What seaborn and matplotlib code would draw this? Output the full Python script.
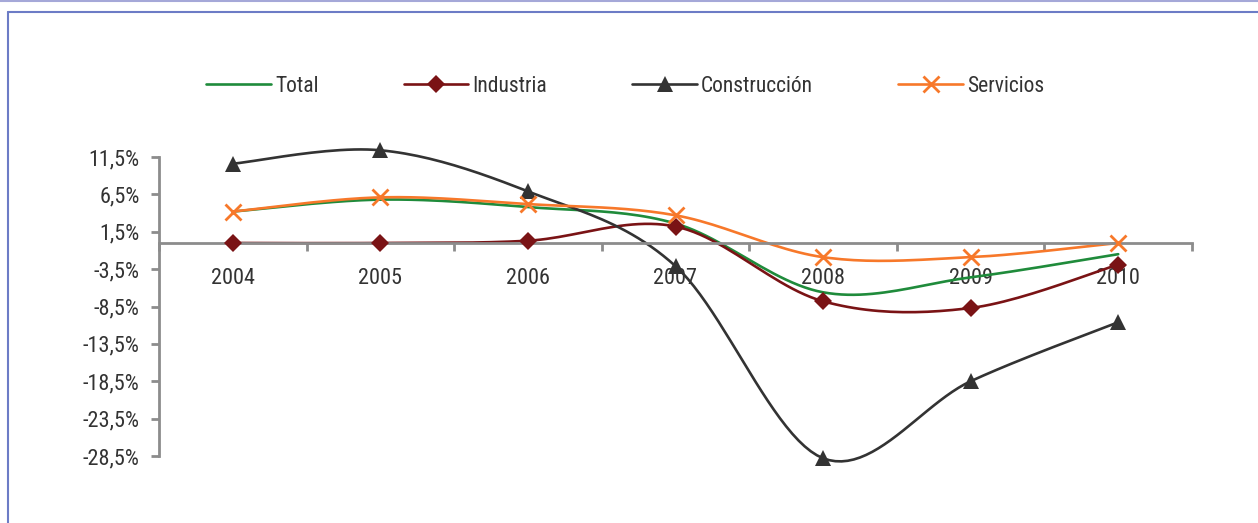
import numpy as np
import pandas as pd
import matplotlib
matplotlib.use("Agg")
import matplotlib.pyplot as plt
from matplotlib import font_manager
from matplotlib.lines import Line2D
import seaborn as sns

years = ["2004", "2005", "2006", "2007", "2008", "2009", "2010"]
total = [4.2, 5.8, 4.8, 2.6, -6.6, -4.6, -1.5]
industria = [0.0, 0.0, 0.3, 2.2, -7.8, -8.7, -2.9]
construccion = [10.6, 12.4, 6.9, -3.1, -28.8, -18.5, -10.6]
servicios = [4.2, 6.1, 5.2, 3.7, -1.9, -1.9, 0.0]

series_names = ["Total", "Industria", "Construcción", "Servicios"]
series_values = [total, industria, construccion, servicios]
colors = {"Total": "#1f8b3b", "Industria": "#7a1315",
          "Construcción": "#333333", "Servicios": "#f7782a"}
markers = {"Total": None, "Industria": "D", "Construcción": "^", "Servicios": "x"}
ytick_vals = [11.5, 6.5, 1.5, -3.5, -8.5, -13.5, -18.5, -23.5, -28.5]

sns.set_theme(style="white")
available = {f.name for f in font_manager.fontManager.ttflist}
main_font = next((f for f in ["Liberation Sans Narrow", "Roboto Condensed", "Roboto", "DejaVu Sans"]
                  if f in available), "DejaVu Sans")
plt.rcParams["font.family"] = [main_font, "DejaVu Sans"]


def smooth(xs, ys, n=24):
    """Cubic Bezier smoothing with Catmull-Rom control points."""
    pts = np.column_stack([xs, ys]).astype(float)
    ext = np.vstack([pts[0], pts, pts[-1]])
    out = []
    t = np.linspace(0, 1, n, endpoint=False)[:, None]
    for i in range(len(pts) - 1):
        p0, p1, p2, p3 = ext[i], ext[i + 1], ext[i + 2], ext[i + 3]
        c1 = p1 + (p2 - p0) / 6.0
        c2 = p2 - (p3 - p1) / 6.0
        seg = ((1 - t) ** 3) * p1 + 3 * ((1 - t) ** 2) * t * c1 + 3 * (1 - t) * t ** 2 * c2 + t ** 3 * p2
        out.append(seg)
    out.append(pts[-1][None, :])
    return np.vstack(out)


xpos = np.arange(len(years))
frames = []
for name, vals in zip(series_names, series_values):
    sm = smooth(xpos, vals)
    frames.append(pd.DataFrame({"x": sm[:, 0], "y": sm[:, 1], "serie": name}))
curves = pd.concat(frames, ignore_index=True)

fig = plt.figure(figsize=(12.58, 5.23), dpi=100)
ax = fig.add_axes([159 / 1258, 1 - 456 / 523, (1192 - 159) / 1258, (456 - 157) / 523])

sns.lineplot(data=curves, x="x", y="y", hue="serie", palette=colors, sort=False,
             estimator=None, units="serie", legend=False, linewidth=1.9, ax=ax,
             hue_order=series_names)
for line in ax.lines:
    line.set_clip_on(False)

marker_kw = {
    "Industria": dict(markersize=9, markeredgewidth=0),
    "Construcción": dict(markersize=11, markeredgewidth=0),
    "Servicios": dict(markersize=12, markeredgewidth=2.0),
}
for name, vals in zip(series_names, series_values):
    m = markers[name]
    if m is None:
        continue
    ax.plot(xpos, vals, linestyle="none", marker=m, color=colors[name],
            clip_on=False, zorder=5, **marker_kw[name])

ax.set_xlim(-0.5, len(years) - 0.5)
ax.set_ylim(-28.5, 11.5)

axis_gray = "#8c8c8c"
for side in ["top", "right"]:
    ax.spines[side].set_visible(False)
ax.spines["left"].set_color(axis_gray)
ax.spines["left"].set_linewidth(2)
ax.spines["bottom"].set_color(axis_gray)
ax.spines["bottom"].set_linewidth(2)
ax.spines["bottom"].set_position(("data", 0))

ax.set_yticks(ytick_vals)
ax.set_yticklabels([f"{v:.1f}%".replace(".", ",") for v in ytick_vals])
ax.set_xticks(xpos)
ax.set_xticklabels(years)
ax.set_xticks(np.arange(len(years) + 1) - 0.5, minor=True)

ax.tick_params(axis="y", which="major", direction="out", length=6, width=2,
               color=axis_gray, pad=8, labelsize=16, labelcolor="#333333", left=True)
ax.tick_params(axis="x", which="major", length=0, pad=18, labelsize=16,
               labelcolor="#333333", bottom=True)
ax.tick_params(axis="x", which="minor", direction="out", length=6, width=2,
               color=axis_gray, bottom=True)
ax.set_xlabel("")
ax.set_ylabel("")
ax.grid(False)

handles = []
for name in series_names:
    m = markers[name]
    kw = dict(color=colors[name], linewidth=1.9)
    if m is not None:
        kw.update(marker=m, **marker_kw[name])
    handles.append(Line2D([0], [0], **kw))
fig.legend(handles, series_names, loc="center", bbox_to_anchor=(0.497, 1 - 86 / 523),
           ncol=4, frameon=False, fontsize=15.5, handlelength=3.0, handletextpad=0.2,
           columnspacing=3.95, labelcolor="#333333")

# surrounding frame lines
fig.add_artist(Line2D([0, 1], [1 - 0.5 / 523, 1 - 0.5 / 523], transform=fig.transFigure,
                      color="#a5a8d8", linewidth=1.5))
fig.add_artist(Line2D([8 / 1258, 1], [1 - 12 / 523, 1 - 12 / 523], transform=fig.transFigure,
                      color="#6c7cc6", linewidth=1.5))
fig.add_artist(Line2D([8 / 1258, 8 / 1258], [0, 1 - 12 / 523], transform=fig.transFigure,
                      color="#6c7cc6", linewidth=1.5))

fig.savefig("out.png", dpi=100, facecolor="white")
